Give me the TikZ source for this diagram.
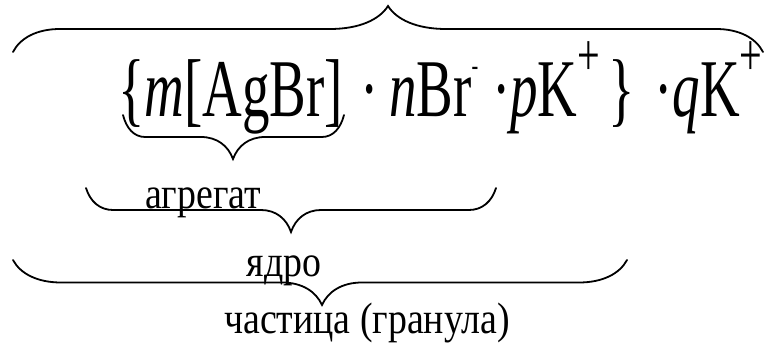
\documentclass[tikz,border=0pt]{standalone}
\usepackage{fontspec}
\setmainfont{Liberation Serif}
\newfontfamily\formfont[FakeStretch=0.67]{Liberation Serif}
\newfontfamily\lblfont[FakeStretch=0.86]{Liberation Serif}
\newcommand\ionsup[1]{\raisebox{.51em}{\fontsize{60}{60}\selectfont #1}}
\newcommand\ionminus{\raisebox{.5em}{\fontsize{30}{30}\selectfont -}}

\begin{document}
\begin{tikzpicture}[x=1pt,y=-1pt,
  brace/.style={line width=1.8pt,line cap=round},
  lbl/.style={inner sep=0pt,anchor=base,font=\lblfont\fontsize{44}{44}\selectfont}]
 \useasboundingbox (0,0) rectangle (765,344);
 \node[inner sep=0pt,anchor=base west,font=\formfont\fontsize{82}{82}\selectfont] (formula) at (118,117)
  {\{\textit{m}[AgBr]\hspace{18pt}·\hspace{10pt}\textit{n}Br\ionminus\ ·\textit{p}K\ionsup{+}\hspace{8pt}\}\hspace{20pt}·\textit{q}K\ionsup{+}};
 \foreach \xa/\xb/\y/\xt/\h/\w/\wt in
  {13/763/52/388/-23/47/58,123/344/115/233/22/22/32,86/496/188/291/22/27/30,13/627/260/322/22.5/48/40}{
  \draw[brace] (\xa,\y) .. controls ({\xa+.15*\w},{\y+.6*\h}) and ({\xa+.5*\w},{\y+\h}) .. ({\xa+\w},{\y+\h})
   -- ({\xt-\wt},{\y+\h}) .. controls ({\xt-.5*\wt},{\y+\h}) and ({\xt-.15*\wt},{\y+1.4*\h}) .. (\xt,{\y+2*\h})
   .. controls ({\xt+.15*\wt},{\y+1.4*\h}) and ({\xt+.5*\wt},{\y+\h}) .. ({\xt+\wt},{\y+\h})
   -- ({\xb-\w},{\y+\h}) .. controls ({\xb-.5*\w},{\y+\h}) and ({\xb-.15*\w},{\y+.6*\h}) .. (\xb,\y);}
 \node[lbl] (agg) at (203,209) {агрегат};
 \node[lbl] (core) at (284,277) {ядро};
 \node[lbl] (part) at (367,334) {частица (гранула)};
\end{tikzpicture}
\end{document}
